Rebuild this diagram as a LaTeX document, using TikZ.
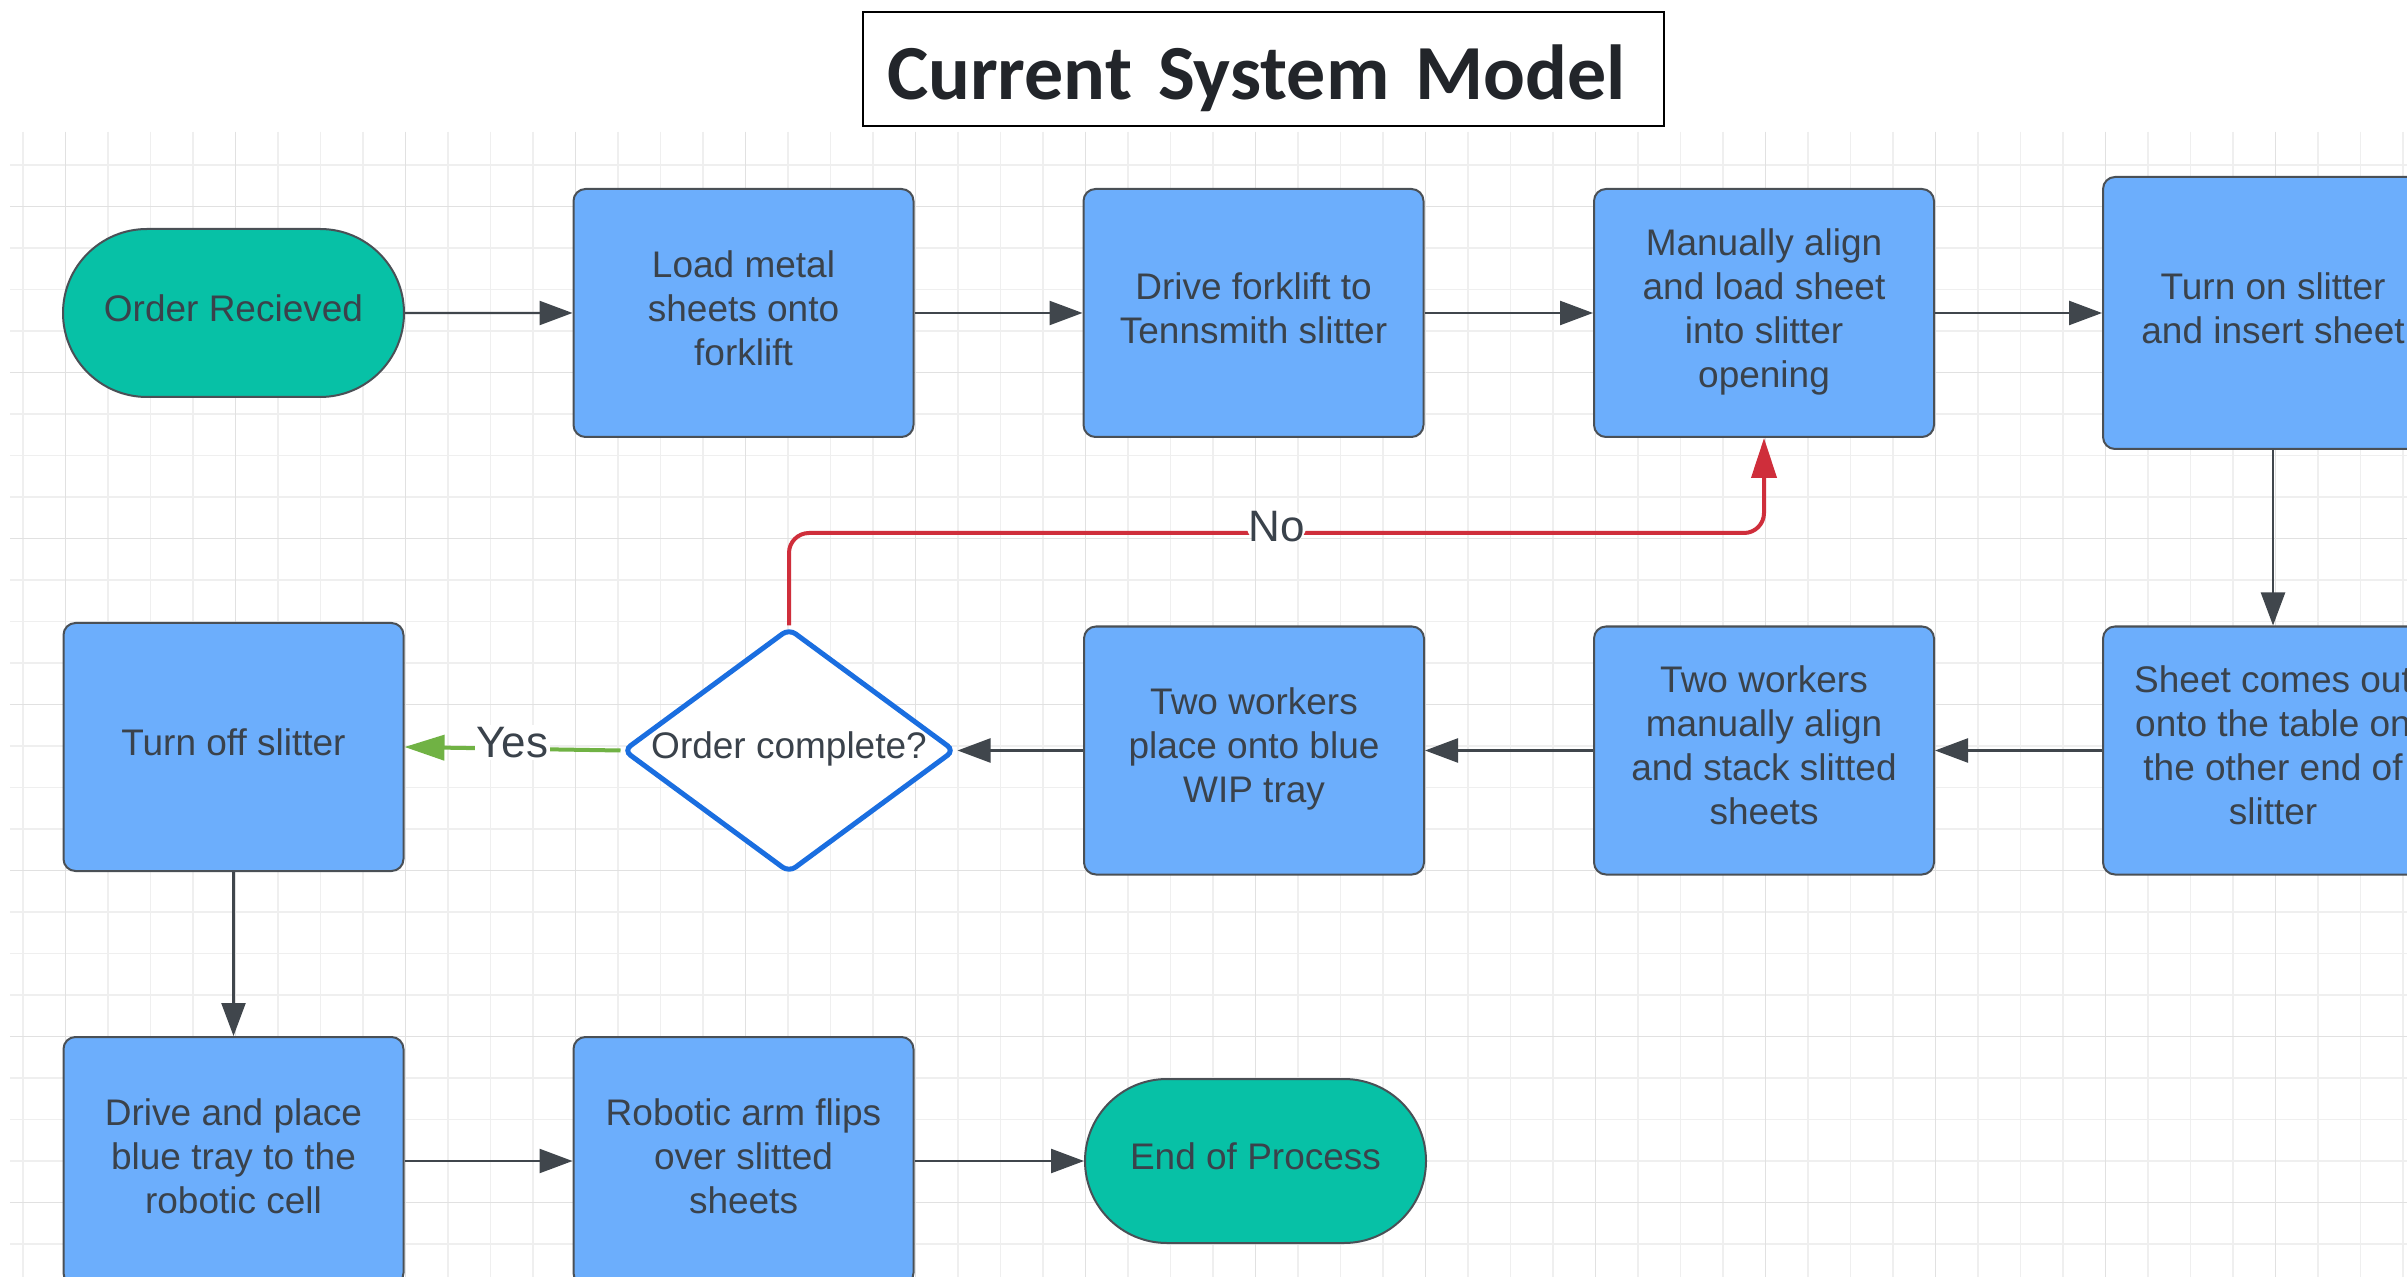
\documentclass[tikz,border=0pt]{standalone}
\usepackage{fontspec}
\setmainfont{Liberation Sans}
\newfontfamily\titlefont{Carlito}
\usetikzlibrary{arrows.meta,shapes.geometric,shapes.misc}

\definecolor{boxblue}{HTML}{6CAEFC}
\definecolor{termteal}{HTML}{07C1A6}
\definecolor{edgegrey}{HTML}{4A5056}
\definecolor{ink}{HTML}{3A424B}
\definecolor{arrowgrey}{HTML}{40464C}
\definecolor{noRed}{HTML}{CF2E3B}
\definecolor{yesGreen}{HTML}{70B244}
\definecolor{decBlue}{HTML}{1A6EE0}
\definecolor{gridminor}{HTML}{EFEFEF}
\definecolor{gridmajor}{HTML}{E1E1E1}
\definecolor{titleink}{HTML}{22252A}

% a fixed depth on the last line keeps every text centred on its line box
\newcommand{\linedepth}{\rule[-5pt]{0pt}{5pt}}

\tikzset{
  boxtext/.style={text=ink, font=\fontsize{18.5}{22}\selectfont,
    execute at end node=\linedepth},
  procbox/.style={boxtext, draw=edgegrey, fill=boxblue, line width=1pt, rounded corners=6pt,
    minimum width=170pt, minimum height=124pt, inner sep=0pt, align=center},
  terminal/.style={boxtext, rounded rectangle, draw=edgegrey, fill=termteal, line width=1pt,
    minimum width=170.5pt, minimum height=84pt, inner sep=0pt, align=center},
  decision/.style={boxtext, diamond, draw=decBlue, fill=white, line width=2.5pt, rounded corners=4pt,
    minimum width=166pt, minimum height=122.5pt, inner sep=0pt},
  flow/.style={draw=arrowgrey, line width=1.2pt,
    -{Triangle[length=16.5pt,width=12pt]}},
  noflow/.style={draw=noRed, line width=2pt, rounded corners=10pt,
    -{Triangle[length=20pt,width=12.5pt]}},
  yesflow/.style={draw=yesGreen, line width=2pt,
    -{Triangle[length=20pt,width=12.5pt]}},
  branchlabel/.style={fill=white, inner sep=1pt, yshift=3pt, text=ink,
    font=\fontsize{22}{24}\selectfont},
}

\begin{document}
\begin{tikzpicture}[x=0.5pt,y=-0.5pt]
\useasboundingbox (0,0) rectangle (2407,1277);
\clip (0,0) rectangle (2407,1277);
\fill[white] (0,0) rectangle (2407,1277);

% background grid
\foreach \k in {0,...,56}
  \draw[gridminor, line width=0.8pt] ({23+42.5*\k},132) -- ({23+42.5*\k},1277);
\foreach \k in {0,...,26}
  \draw[gridminor, line width=0.8pt] (10,{165+41.5*\k}) -- (2407,{165+41.5*\k});
\foreach \k in {1,5,...,53}
  \draw[gridmajor, line width=0.9pt] ({23+42.5*\k},132) -- ({23+42.5*\k},1277);
\foreach \k in {1,5,...,25}
  \draw[gridmajor, line width=0.9pt] (10,{165+41.5*\k}) -- (2407,{165+41.5*\k});

% title
\node[draw=black, line width=1.3pt, fill=white, minimum width=400.5pt, minimum height=57pt,
  inner xsep=12pt, text width=376.5pt, align=left, text height=36pt, text depth=5pt,
  text=titleink, font=\titlefont\bfseries\fontsize{39}{44}\selectfont]
  (title) at (1263.5,69) {Current System Model};

% first row
\node[terminal] (order) at (233.5,313) {Order Recieved};
\node[procbox] (load) at (743.5,313) {Load metal\\sheets onto\\forklift};
\node[procbox] (drive) at (1253.5,313) {Drive forklift to\\Tennsmith slitter};
\node[procbox] (manual) at (1764,313) {Manually align\\and load sheet\\into slitter\\opening};
\node[procbox, minimum height=136pt] (turnon) at (2273,313) {Turn on slitter\\and insert sheet};

% second row
\node[procbox] (sheet) at (2273,750.5) {Sheet comes out\\onto the table on\\the other end of\\slitter};
\node[procbox] (stack) at (1764,750.5) {Two workers\\manually align\\and stack slitted\\sheets};
\node[procbox] (place) at (1254,750.5) {Two workers\\place onto blue\\WIP tray};
\node[decision] (done) at (789,750.5) {\makebox[0pt]{Order complete?}};
\node[procbox] (turnoff) at (233.5,747) {Turn off slitter};

% third row
\node[procbox] (tray) at (233.5,1161) {Drive and place\\blue tray to the\\robotic cell};
\node[procbox] (robot) at (743.5,1161) {Robotic arm flips\\over slitted\\sheets};
\node[terminal, minimum height=82pt] (finish) at (1255.5,1161) {End of Process};

% connectors
\draw[flow] (order) -- (load);
\draw[flow] (load) -- (drive);
\draw[flow] (drive) -- (manual);
\draw[flow] (manual) -- (turnon);
\draw[flow] (turnon) -- (sheet);
\draw[flow] (sheet) -- (stack);
\draw[flow] (stack) -- (place);
\draw[flow] (place) -- (done);
\draw[flow] (turnoff) -- (tray);
\draw[flow] (tray) -- (robot);
\draw[flow] (robot) -- (finish);

\coordinate (retry) at (0,533);
\draw[noflow] (done.north) -- (done.north |- retry)
  -- node[branchlabel] {No} (manual.south |- retry) -- (manual.south);
\draw[yesflow] (done.west) -- node[branchlabel] {Yes} (turnoff.east);
\end{tikzpicture}
\end{document}
